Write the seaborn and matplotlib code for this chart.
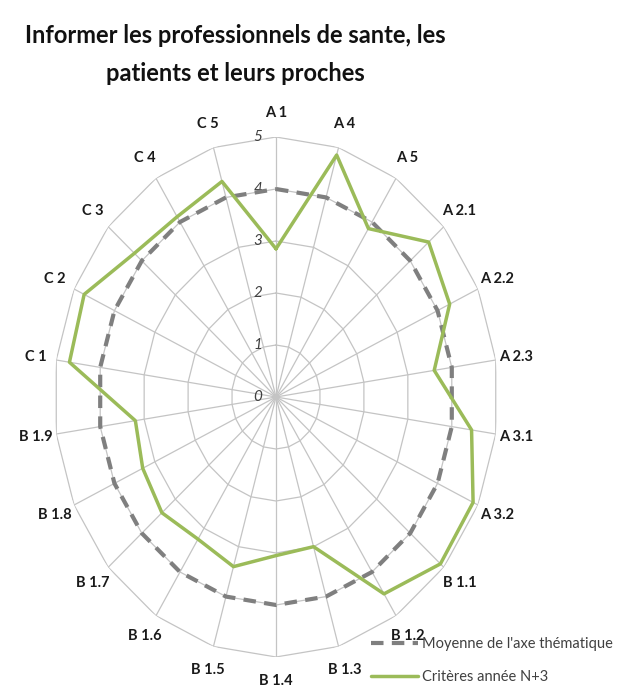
import numpy as np
import matplotlib
matplotlib.use('Agg')
import matplotlib.pyplot as plt
import seaborn as sns

categories = ["A 1", "A 4", "A 5", "A 2.1", "A 2.2", "A 2.3", "A 3.1", "A 3.2",
              "B 1.1", "B 1.2", "B 1.3", "B 1.4", "B 1.5", "B 1.6", "B 1.7", "B 1.8", "B 1.9",
              "C 1", "C 2", "C 3", "C 4", "C 5"]
moyenne = [4, 4, 4, 4, 4, 4, 4, 4, 4, 4, 4, 4, 4, 4, 4, 4, 4, 4, 4, 4, 4, 4]
criteres = [2.85, 4.85, 3.85, 4.55, 4.3, 3.6, 4.45, 4.88, 4.9, 4.5, 3.0, 3.05,
            3.4, 3.25, 3.4, 3.3, 3.2, 4.7, 4.75, 4.22, 4.12, 4.32]
levels = [0, 1, 2, 3, 4, 5]
title_lines = ["Informer les professionnels de sante, les", "patients et leurs proches"]
legend_labels = ["Moyenne de l'axe thématique", "Critères année N+3"]

sns.set_style('white')
plt.rcParams['font.family'] = ['Lato', 'DejaVu Sans']

n = len(categories)
theta = np.linspace(0, 2 * np.pi, n, endpoint=False)
theta_c = np.append(theta, theta[0] + 2 * np.pi)

fig = plt.figure(figsize=(6.18, 6.88), dpi=100)
ax = fig.add_axes([54 / 618, 31 / 688, 444 / 618, 520 / 688], projection='polar')
ax.set_theta_zero_location('N')
ax.set_theta_direction(-1)
ax.set_aspect('auto')
ax.set_ylim(0, 5)

# spokes
ax.set_xticks(theta)
ax.set_xticklabels([])
ax.set_yticks([])
ax.grid(True, axis='x', color='#c4c4c4', lw=0.9)
ax.spines['polar'].set_visible(False)

# polygon rings
for lv in levels[1:]:
    ax.plot(theta_c, [lv] * (n + 1), color='#c4c4c4', lw=0.9, zorder=1)

for lv in levels:
    ax.annotate(str(lv), xy=(0, lv), xytext=(-13, 0), textcoords='offset points',
                ha='center', va='center', fontsize=11, style='italic', color='#404040')

for t, lab in zip(theta, categories):
    ax.text(t, 5.47, lab, ha='center', va='center', fontsize=10.5,
            fontweight='bold', color='#1a1a1a')

sns.lineplot(x=theta_c, y=moyenne + moyenne[:1], ax=ax, sort=False, estimator=None,
             color='#7f7f7f', lw=3, linestyle=(0, (3, 2)), label=legend_labels[0], legend=False, zorder=3)
sns.lineplot(x=theta_c, y=criteres + criteres[:1], ax=ax, sort=False, estimator=None,
             color='#9bbb59', lw=2.5, label=legend_labels[1], legend=False, zorder=4)
ax.set_xlabel('')
ax.set_ylabel('')

for i, line in enumerate(title_lines):
    fig.text(235 / 618, 1 - (43 + 38 * i) / 688, line, ha='center', va='baseline',
             fontsize=17, fontweight='bold', color='#111111')

handles = ax.get_lines()[-2:]
fig.legend(handles, legend_labels, loc='upper left', bbox_to_anchor=(358 / 618, 1 - 624 / 688),
           frameon=False, fontsize=10.5, handlelength=3.2, handletextpad=0.3, labelspacing=1.3,
           labelcolor='#404040')

fig.savefig('out.png', dpi=100)
